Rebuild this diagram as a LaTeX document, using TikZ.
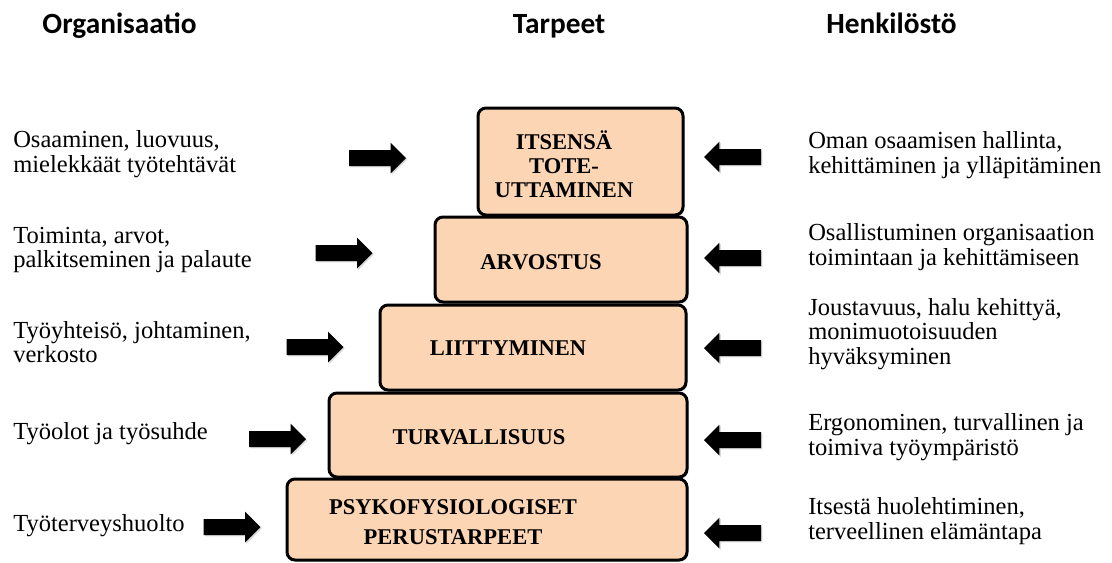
\documentclass[tikz,border=0pt]{standalone}
\usepackage{fontspec}
\setmainfont{Liberation Serif}
\newfontfamily\headfont{Carlito}
\usetikzlibrary{shapes.arrows,shadows}
\definecolor{peach}{RGB}{252,213,180}
\tikzset{
  headtxt/.style={font=\headfont\bfseries\fontsize{22}{24}\selectfont, inner sep=0pt, anchor=base},
  sidetxt/.style={anchor=west, align=left, inner sep=0pt, font=\fontsize{18.4}{18.6}\selectfont},
  levelbox/.style={draw=black, line width=2.25pt, fill=peach, rounded corners=6pt, inner sep=0pt,
     drop shadow={shadow xshift=1.2pt, shadow yshift=-1.2pt, opacity=0.25}},
  leveltxt/.style={align=center, inner sep=0pt, font=\bfseries\fontsize{16.9}{18}\selectfont},
  blockarrow/.style={single arrow, fill=black, inner xsep=0pt, inner ysep=5.8pt,
     minimum height=42.75pt, single arrow head extend=5.6pt, single arrow tip angle=90,
     drop shadow={shadow xshift=1pt, shadow yshift=-1pt, opacity=0.3}},
  rightarrow/.style={blockarrow},
  leftarrow/.style={blockarrow, shape border rotate=180}
}
\begin{document}
\begin{tikzpicture}[x=0.75pt,y=-0.75pt]
\useasboundingbox (0,0) rectangle (1112,562);
% headers
\node[headtxt] (hOrg) at (119.5,33) {Organisaatio};
\node[headtxt] (hTar) at (559,33) {Tarpeet};
\node[headtxt] (hHen) at (891.5,33) {Henkilöstö};
% pyramid boxes
\node[levelbox, minimum width=153.75pt, minimum height=80.25pt] (b1) at (580.5,161.5) {};
\node[levelbox, minimum width=189pt, minimum height=63.75pt] (b2) at (561,259.5) {};
\node[levelbox, minimum width=229.5pt, minimum height=63.75pt] (b3) at (533,347.5) {};
\node[levelbox, minimum width=268.5pt, minimum height=63pt] (b4) at (508,435) {};
\node[levelbox, minimum width=300pt, minimum height=60.75pt] (b5) at (487,519.5) {};
% level labels
\node[leveltxt] (t1) at (564,164) {ITSENSÄ\\TOTE-\\UTTAMINEN};
\node[leveltxt] (t2) at (541,262) {ARVOSTUS};
\node[leveltxt] (t3) at (508,348) {LIITTYMINEN};
\node[leveltxt] (t4) at (479,437) {TURVALLISUUS};
\node[leveltxt, font=\bfseries\fontsize{16.9}{23}\selectfont] (t5) at (453,522) {PSYKOFYSIOLOGISET\\PERUSTARPEET};
% left texts
\node[sidetxt] (o1) at (13,154) {Osaaminen, luovuus,\\mielekkäät työtehtävät};
\node[sidetxt] (o2) at (13,250) {Toiminta, arvot,\\palkitseminen ja palaute};
\node[sidetxt] (o3) at (13,342) {Työyhteisö, johtaminen,\\verkosto};
\node[sidetxt] (o4) at (13,434) {Työolot ja työsuhde};
\node[sidetxt] (o5) at (13,526) {Työterveyshuolto};
% right texts
\node[sidetxt] (p1) at (808,155) {Oman osaamisen hallinta,\\kehittäminen ja ylläpitäminen};
\node[sidetxt] (p2) at (808,247) {Osallistuminen organisaation\\toimintaan ja kehittämiseen};
\node[sidetxt] (p3) at (808,334) {Joustavuus, halu kehittyä,\\monimuotoisuuden\\hyväksyminen};
\node[sidetxt] (p4) at (808,437) {Ergonominen, turvallinen ja\\toimiva työympäristö};
\node[sidetxt] (p5) at (808,521) {Itsestä huolehtiminen,\\terveellinen elämäntapa};
% arrows
\node[rightarrow] (a1) at (373.5,158) {};
\node[rightarrow] (a2) at (340,253) {};
\node[rightarrow] (a3) at (311,347) {};
\node[rightarrow] (a4) at (273.5,439) {};
\node[rightarrow] (a5) at (228,527) {};
\node[leftarrow] (c1) at (736.5,157) {};
\node[leftarrow] (c2) at (736.5,258) {};
\node[leftarrow] (c3) at (736.5,348) {};
\node[leftarrow] (c4) at (736.5,440) {};
\node[leftarrow] (c5) at (736.5,533) {};
\end{tikzpicture}
\end{document}
